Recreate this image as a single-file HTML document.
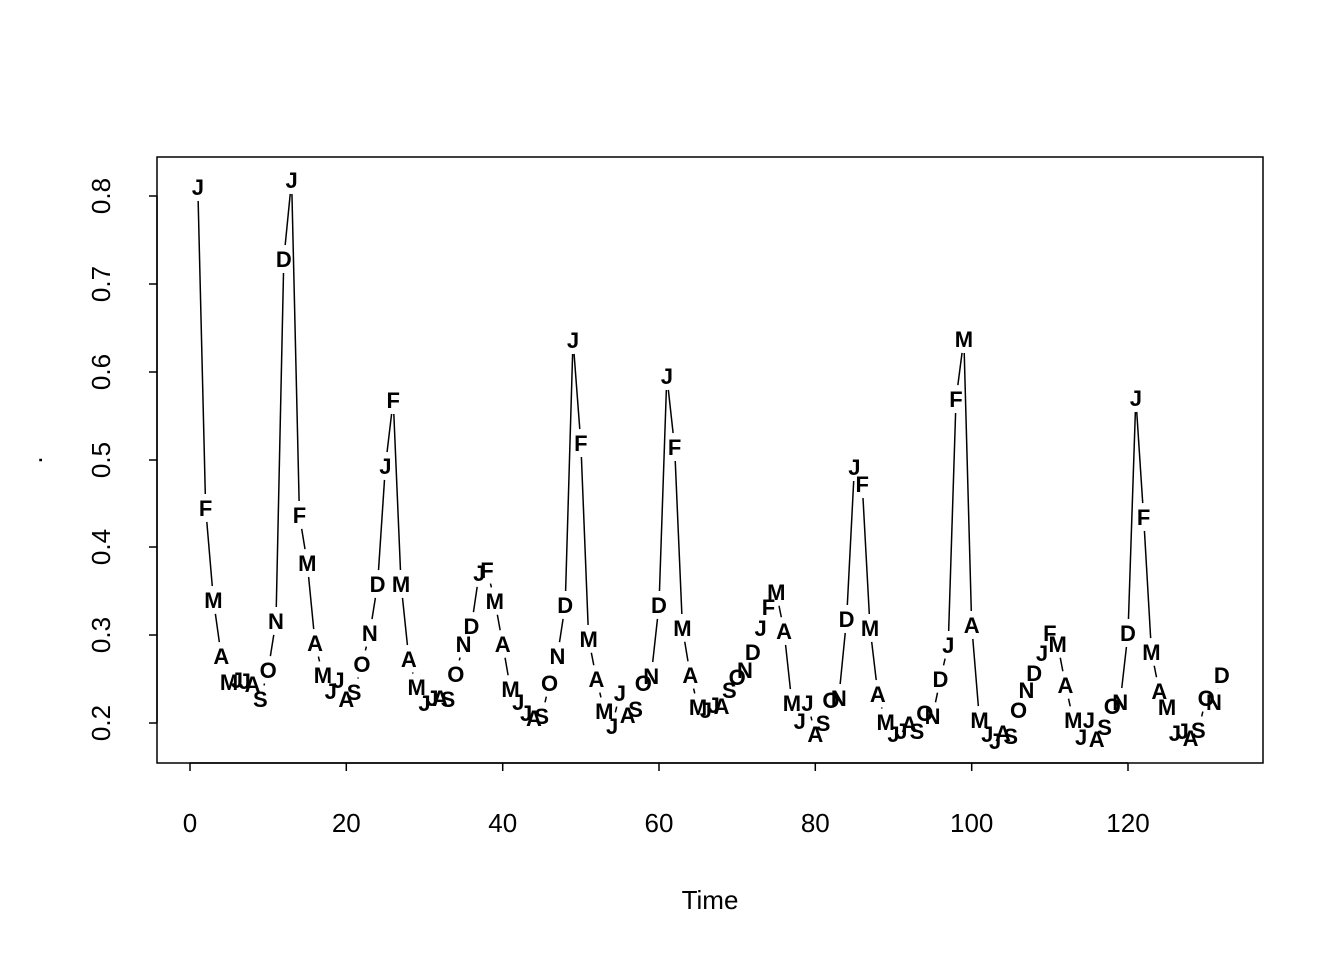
<!DOCTYPE html>
<html><head><meta charset="utf-8"><style>
html,body{margin:0;padding:0;background:#fff;}
svg{display:block;}
text{font-family:"Liberation Sans",Arial,sans-serif;}
</style></head><body>
<svg id="s" width="1344" height="960" xmlns="http://www.w3.org/2000/svg">
<rect x="157" y="157" width="1106" height="606" fill="none" stroke="#000" stroke-width="1.5"/>
<g stroke="#000" stroke-width="1.5">
<line x1="190" y1="763" x2="1128" y2="763"/>
<line x1="190" y1="763" x2="190" y2="771"/>
<line x1="346.3" y1="763" x2="346.3" y2="771"/>
<line x1="502.7" y1="763" x2="502.7" y2="771"/>
<line x1="659" y1="763" x2="659" y2="771"/>
<line x1="815.3" y1="763" x2="815.3" y2="771"/>
<line x1="971.7" y1="763" x2="971.7" y2="771"/>
<line x1="1128" y1="763" x2="1128" y2="771"/>
<line x1="157" y1="196" x2="157" y2="723"/>
<line x1="149" y1="196" x2="157" y2="196"/>
<line x1="149" y1="284" x2="157" y2="284"/>
<line x1="149" y1="372" x2="157" y2="372"/>
<line x1="149" y1="460" x2="157" y2="460"/>
<line x1="149" y1="547" x2="157" y2="547"/>
<line x1="149" y1="635" x2="157" y2="635"/>
<line x1="149" y1="723" x2="157" y2="723"/>
</g>
<g font-size="26" text-anchor="middle">
<text x="190" y="832">0</text><text x="346.3" y="832">20</text><text x="502.7" y="832">40</text>
<text x="659" y="832">60</text><text x="815.3" y="832">80</text><text x="971.7" y="832">100</text><text x="1128" y="832">120</text>
<text x="710" y="909">Time</text>
<text transform="translate(110,196) rotate(-90)">0.8</text>
<text transform="translate(110,284) rotate(-90)">0.7</text>
<text transform="translate(110,372) rotate(-90)">0.6</text>
<text transform="translate(110,460) rotate(-90)">0.5</text>
<text transform="translate(110,547) rotate(-90)">0.4</text>
<text transform="translate(110,635) rotate(-90)">0.3</text>
<text transform="translate(110,723) rotate(-90)">0.2</text>
<text transform="translate(42,460) rotate(-90)">.</text>
</g>
<g id="lines" stroke="#000" stroke-width="1.5"></g>
<g id="labs" font-size="22" font-weight="bold" text-anchor="middle"></g>
</svg>
<script>
var ys=[187,508,600,656,682,680,681,684,699,670,621,259,
180,515,563,643,675,691,680,699,692,664,633,584,
466,400,584,659,687,703,698,698,699,674,644,626,
573,570,601,644,689,702,713,718,716,683,656,605,
340,443,639,679,711,726,693,715,709,683,676,605,
376,447,628,675,707,710,705,706,690,677,670,652,
628,607,592,631,703,721,703,734,723,700,698,619,
467,484,628,694,722,734,731,724,731,713,716,679,
645,399,339,625,720,734,741,733,736,710,690,673,
653,633,644,685,720,737,720,739,727,706,702,633,
398,517,652,691,707,733,731,738,730,698,702,675];
var L="JFMAMJJASOND";
var ns="http://www.w3.org/2000/svg";
var lg=document.getElementById("lines"),tg=document.getElementById("labs");
function X(t){return 190+t*7.8167;}
for(var i=0;i<ys.length;i++){
 var x=X(i+1),y=ys[i];
 var t=document.createElementNS(ns,"text");
 t.setAttribute("x",x);t.setAttribute("y",y+8);t.textContent=L[i%12];tg.appendChild(t);
 if(i<ys.length-1){
  var x2=X(i+2),y2=ys[i+1],dx=x2-x,dy=y2-y,d=Math.sqrt(dx*dx+dy*dy),g=14;
  if(d>2*g){var ux=dx/d,uy=dy/d;
   var l=document.createElementNS(ns,"line");
   l.setAttribute("x1",x+ux*g);l.setAttribute("y1",y+uy*g);
   l.setAttribute("x2",x2-ux*g);l.setAttribute("y2",y2-uy*g);lg.appendChild(l);}
 }
}
</script>
</body></html>
